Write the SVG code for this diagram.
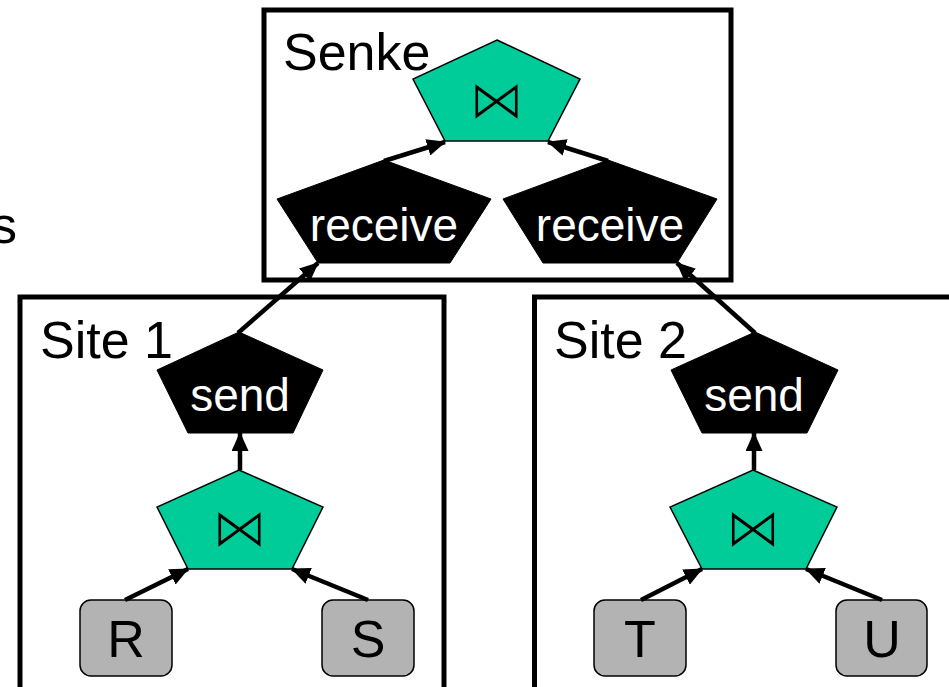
<svg xmlns="http://www.w3.org/2000/svg" width="949" height="687" viewBox="0 0 949 687">
<style>
.box{fill:none;stroke:#000;stroke-width:5}
.lbl{font-family:"Liberation Sans",Arial,sans-serif;font-size:52px;fill:#000}
.join{fill:#00CC99;stroke:#000;stroke-width:1.5}
.op{fill:#000;stroke:#000;stroke-width:1}
.opt{font-family:"Liberation Sans",Arial,sans-serif;font-size:46px;fill:#fff;text-anchor:middle}
.bow{font-family:"DejaVu Sans",sans-serif;font-size:56px;fill:#000;stroke:#00CC99;stroke-width:2;paint-order:fill;text-anchor:middle}
.rel{fill:#B3B3B3;stroke:#000;stroke-width:1.5}
.relt{font-family:"Liberation Sans",Arial,sans-serif;font-size:52px;fill:#000;text-anchor:middle}
.edge{fill:none;stroke:#000;stroke-width:4.5;marker-end:url(#ah)}
</style>
<defs>
<marker id="ah" markerUnits="userSpaceOnUse" markerWidth="19" markerHeight="17" refX="18" refY="8.5" orient="auto">
<path d="M0,0 L19,8.5 L0,17 Z" fill="#000"/>
</marker>
</defs>
<rect width="949" height="687" fill="#fff"/>
<text class="lbl" x="17" y="243" text-anchor="end">s</text>
<g id="join-top">
<polygon class="join" points="497,40 580,79 548,141 445,141 413,79"/>
<text class="bow" x="496.5" y="119">⋈</text>
</g>
<g id="senke">
<rect class="box" x="264" y="10" width="467" height="270"/>
<text class="lbl" x="283" y="70">Senke</text>
</g>
<g id="site1">
<rect class="box" x="20" y="297" width="424" height="420"/>
<text class="lbl" x="40" y="358">Site 1</text>
</g>
<g id="site2">
<rect class="box" x="534.5" y="297" width="440" height="420"/>
<text class="lbl" x="554" y="358">Site 2</text>
</g>
<g id="receive-left">
<polygon class="op" points="384,160 491,199 450,263 318,263 277,199"/>
<text class="opt" x="384" y="241">receive</text>
</g>
<g id="receive-right">
<polygon class="op" points="608,160 717,199 677,263 543,263 503,199"/>
<text class="opt" x="610" y="241">receive</text>
</g>
<g id="send1">
<polygon class="op" points="239,332 323,370 293,433 188,433 157,370"/>
<text class="opt" x="240" y="411">send</text>
</g>
<g id="join1">
<polygon class="join" points="239,470 323,507 292,569 188,569 157,507"/>
<text class="bow" x="239.5" y="547">⋈</text>
</g>
<g id="R">
<rect class="rel" x="80" y="600" width="92" height="76" rx="11"/>
<text class="relt" x="126" y="657">R</text>
</g>
<g id="S">
<rect class="rel" x="322" y="600" width="92" height="76" rx="11"/>
<text class="relt" x="368" y="657">S</text>
</g>
<g id="send2">
<polygon class="op" points="755,332 838,370 807,433 702,433 671,370"/>
<text class="opt" x="754" y="411">send</text>
</g>
<g id="join2">
<polygon class="join" points="753,470 837,507 806,569 702,569 670,507"/>
<text class="bow" x="753" y="547">⋈</text>
</g>
<g id="T">
<rect class="rel" x="594" y="600" width="92" height="76" rx="11"/>
<text class="relt" x="640" y="657">T</text>
</g>
<g id="U">
<rect class="rel" x="836" y="600" width="91" height="76" rx="11"/>
<text class="relt" x="882" y="657">U</text>
</g>
<g id="connectors">
<line class="edge" x1="384" y1="161" x2="445" y2="142"/>
<line class="edge" x1="608" y1="161" x2="548" y2="142"/>
<line class="edge" x1="238" y1="333" x2="318" y2="263"/>
<line class="edge" x1="755" y1="333" x2="677" y2="263"/>
<line class="edge" x1="240" y1="470" x2="240" y2="433"/>
<line class="edge" x1="754" y1="470" x2="754" y2="433"/>
<line class="edge" x1="125" y1="600" x2="188" y2="569"/>
<line class="edge" x1="368" y1="600" x2="292" y2="569"/>
<line class="edge" x1="641" y1="600" x2="702" y2="569"/>
<line class="edge" x1="882" y1="600" x2="806" y2="569"/>
</g>
</svg>
